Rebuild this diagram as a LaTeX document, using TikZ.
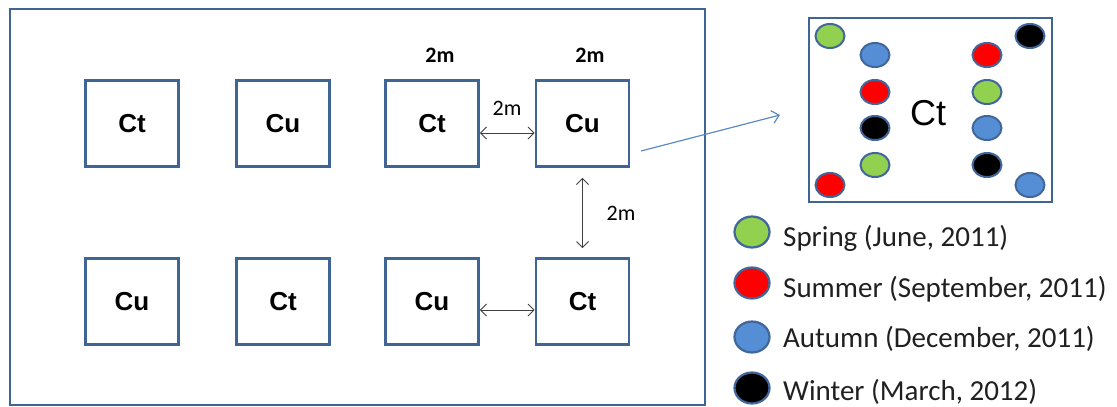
\documentclass[tikz,border=0pt]{standalone}
\usepackage{fontspec}
\setmainfont{Liberation Sans}
\newfontfamily\calfont{Carlito}
\usetikzlibrary{arrows.meta,shapes.geometric}
\definecolor{boxblue}{HTML}{3F6595}
\definecolor{ringblue}{HTML}{41679A}
\definecolor{linkblue}{HTML}{5B8AC6}
\definecolor{sgreen}{HTML}{92D050}
\definecolor{sred}{HTML}{FF0000}
\definecolor{sblue}{HTML}{558ED5}
\definecolor{sblack}{HTML}{000000}
\definecolor{arrgray}{HTML}{404040}
\definecolor{legtxt}{HTML}{202020}
\tikzset{
  plot/.style={draw=boxblue, line width=2.6pt, minimum width=93pt, minimum height=86pt, inner sep=0pt,
    font=\fontsize{26}{30}\selectfont\bfseries},
  frame/.style={draw=boxblue, line width=2.6pt},
  dot/.style={ellipse, draw=ringblue, line width=2pt, minimum width=29pt, minimum height=24pt, inner sep=0pt},
  legdot/.style={ellipse, draw=ringblue, line width=2.2pt, minimum width=35pt, minimum height=31pt, inner sep=0pt},
  dimarrow/.style={draw=arrgray, line width=1pt, {Straight Barb[length=6pt,width=12pt]}-{Straight Barb[length=6pt,width=12pt]}},
  dimlabel/.style={font=\calfont\fontsize{22}{24}\selectfont, inner sep=0pt},
  toplabel/.style={font=\calfont\bfseries\fontsize{22}{24}\selectfont, inner sep=0pt},
  legtext/.style={font=\calfont\fontsize{29}{32}\selectfont, text=legtxt, anchor=west, inner sep=0pt},
}
\begin{document}
\begin{tikzpicture}[x=1pt,y=-1pt]
\useasboundingbox (0,0) rectangle (1117,407);
% outer field
\draw[frame] (10,9) rectangle (705,405);
% plots
\node[plot] (a1) at (132,123.5) {Ct};
\node[plot] (a2) at (283,123.5) {Cu};
\node[plot] (a3) at (432,123.5) {Ct};
\node[plot] (a4) at (582.5,123.5) {Cu};
\node[plot] (b1) at (132,301.5) {Cu};
\node[plot] (b2) at (283,301.5) {Ct};
\node[plot] (b3) at (432,301.5) {Cu};
\node[plot] (b4) at (582.5,301.5) {Ct};
% dimension arrows
\draw[dimarrow] ([yshift=-9.5pt]a3.east) -- ([yshift=-9.5pt]a4.west);
\draw[dimarrow] ([yshift=-8.5pt]b3.east) -- ([yshift=-8.5pt]b4.west);
\draw[dimarrow, shorten <=10pt, shorten >=9pt] (a4.south) -- (b4.north);
\node[dimlabel] (l1) at (507,108) {2m};
\node[dimlabel] (l2) at (621,213) {2m};
\node[toplabel] (l3) at (440,55) {2m};
\node[toplabel] (l4) at (590,55) {2m};
% detail box
\node[draw=boxblue, line width=2.6pt, minimum width=243pt, minimum height=184pt, inner sep=0pt] (d) at (930.5,110) {};
\node[font=\fontsize{36}{40}\selectfont, inner sep=0pt] (dct) at (928,113) {Ct};
\coordinate (src) at (641,151);
\draw[linkblue, line width=1.2pt, -{Straight Barb[length=7pt,width=13pt]}] (src) -- (780,115);
% sampling points
\node[dot, fill=sgreen] (p1) at (830,36) {};
\node[dot, fill=sblue] (p2) at (875,55) {};
\node[dot, fill=sred] (p3) at (875,92) {};
\node[dot, fill=sblack] (p4) at (875,128) {};
\node[dot, fill=sgreen] (p5) at (875,165) {};
\node[dot, fill=sred] (p6) at (830,185) {};
\node[dot, fill=sblack] (p7) at (1030,36) {};
\node[dot, fill=sred] (p8) at (987,55) {};
\node[dot, fill=sgreen] (p9) at (987,92) {};
\node[dot, fill=sblue] (p10) at (987,128) {};
\node[dot, fill=sblack] (p11) at (987,165) {};
\node[dot, fill=sblue] (p12) at (1030,185) {};
% legend
\node[legdot, fill=sgreen] (g1) at (752,232) {};
\node[legdot, fill=sred] (g2) at (752,283) {};
\node[legdot, fill=sblue] (g3) at (752,337) {};
\node[legdot, fill=sblack] (g4) at (752,388) {};
\node[legtext] (t1) at (783,238) {Spring (June, 2011)};
\node[legtext] (t2) at (783,289) {Summer (September, 2011)};
\node[legtext] (t3) at (783,339) {Autumn (December, 2011)};
\node[legtext] (t4) at (783,392) {Winter (March, 2012)};
\end{tikzpicture}
\end{document}
